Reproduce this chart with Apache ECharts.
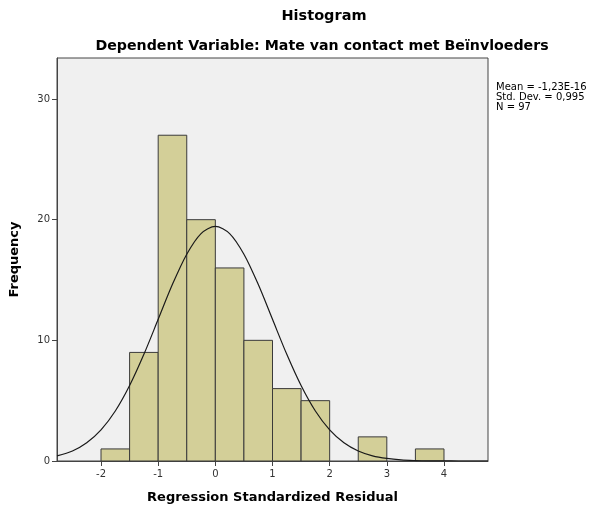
<!DOCTYPE html>
<html><head><meta charset="utf-8">
<script src="https://cdn.jsdelivr.net/npm/echarts@6/dist/echarts.min.js"></script>
<style>html,body{margin:0;padding:0;background:#fff}#c{width:602px;height:511px}</style>
</head><body><div id="c"></div>
<script>
// Histogram bins (lower edge, upper edge) and frequencies
const binLower = [-2, -1.5, -1, -0.5, 0, 0.5, 1, 1.5, 2, 2.5, 3, 3.5];
const binUpper = [-1.5, -1, -0.5, 0, 0.5, 1, 1.5, 2, 2.5, 3, 3.5, 4];
const counts   = [1, 9, 27, 20, 16, 10, 6, 5, 0, 2, 0, 1];
// Normal curve
const curveX = [-2.77,-2.5,-2.25,-2,-1.75,-1.5,-1.25,-1,-0.75,-0.5,-0.25,0,0.25,0.5,0.75,1,1.25,1.5,1.75,2,2.25,2.5,2.75,3,3.25,3.5,3.75,4,4.25,4.5,4.77];
const curveY = [0.42,0.83,1.51,2.58,4.14,6.25,8.84,11.74,14.64,17.14,18.85,19.45,18.85,17.14,14.64,11.74,8.84,6.25,4.14,2.58,1.51,0.83,0.43,0.21,0.09,0.04,0.015,0.006,0.002,0.001,0];
const xTicks = [-2,-1,0,1,2,3,4];
const yTicks = [0,10,20,30];
const statsLines = ['Mean = -1,23E-16', 'Std. Dev. = 0,995', 'N = 97'];

const font = '"DejaVu Sans", sans-serif';
const chart = echarts.init(document.getElementById('c'));
const barData = binLower.map((l, i) => [l, binUpper[i], counts[i]]).filter(d => d[2] > 0);
chart.setOption({
  animation: false,
  backgroundColor: '#fff',
  title: [
    {text: 'Histogram', left: 324, top: 9, padding: 0, textAlign: 'center', textStyle: {fontFamily: font, fontSize: 14.5, fontWeight: 'bold', color: '#000'}},
    {text: 'Dependent Variable: Mate van contact met Beïnvloeders', left: 322, top: 39, padding: 0, textAlign: 'center', textStyle: {fontFamily: font, fontSize: 14.2, fontWeight: 'bold', color: '#000'}}
  ],
  graphic: [{
    type: 'text', left: 496, top: 82,
    style: {text: statsLines.join('\n'), fontFamily: font, fontSize: 10, lineHeight: 10, fill: '#000'}
  }],
  grid: {left: 55, right: 114, top: 58, bottom: 50, show: true, backgroundColor: '#f0f0f0', borderColor: '#444', borderWidth: 1},
  xAxis: {
    type: 'value', min: -2.77, max: 4.77,
    name: 'Regression Standardized Residual', nameLocation: 'middle', nameGap: 30,
    nameTextStyle: {fontFamily: font, fontSize: 13, fontWeight: 'bold', color: '#000'},
    axisLine: {show: true, onZero: false, lineStyle: {color: '#444'}},
    axisTick: {show: true, length: 5, customValues: xTicks, lineStyle: {color: '#444'}},
    axisLabel: {customValues: xTicks, fontFamily: font, fontSize: 10, color: '#333', margin: 8},
    splitLine: {show: false}
  },
  yAxis: {
    type: 'value', min: 0, max: 33.4,
    name: 'Frequency', nameLocation: 'middle', nameGap: 36, nameRotate: 90,
    nameTextStyle: {fontFamily: font, fontSize: 13, fontWeight: 'bold', color: '#000'},
    axisLine: {show: true, onZero: false, lineStyle: {color: '#444'}},
    axisTick: {show: true, length: 5, customValues: yTicks, lineStyle: {color: '#444'}},
    axisLabel: {customValues: yTicks, fontFamily: font, fontSize: 10, color: '#333', margin: 7},
    splitLine: {show: false}
  },
  series: [
    {
      type: 'custom', data: barData, z: 2,
      renderItem: function (params, api) {
        const p0 = api.coord([api.value(0), api.value(2)]);
        const p1 = api.coord([api.value(1), 0]);
        return {type: 'rect', shape: {x: p0[0], y: p0[1], width: p1[0] - p0[0], height: p1[1] - p0[1]},
          style: {fill: '#d3cf98', stroke: '#3a3a3a', lineWidth: 1}};
      },
      encode: {x: [0, 1], y: 2}
    },
    {
      type: 'line', data: curveX.map((x, i) => [x, curveY[i]]), smooth: 0.3, showSymbol: false, z: 3,
      lineStyle: {color: '#1a1a1a', width: 1.2}
    }
  ]
});
</script></body></html>
